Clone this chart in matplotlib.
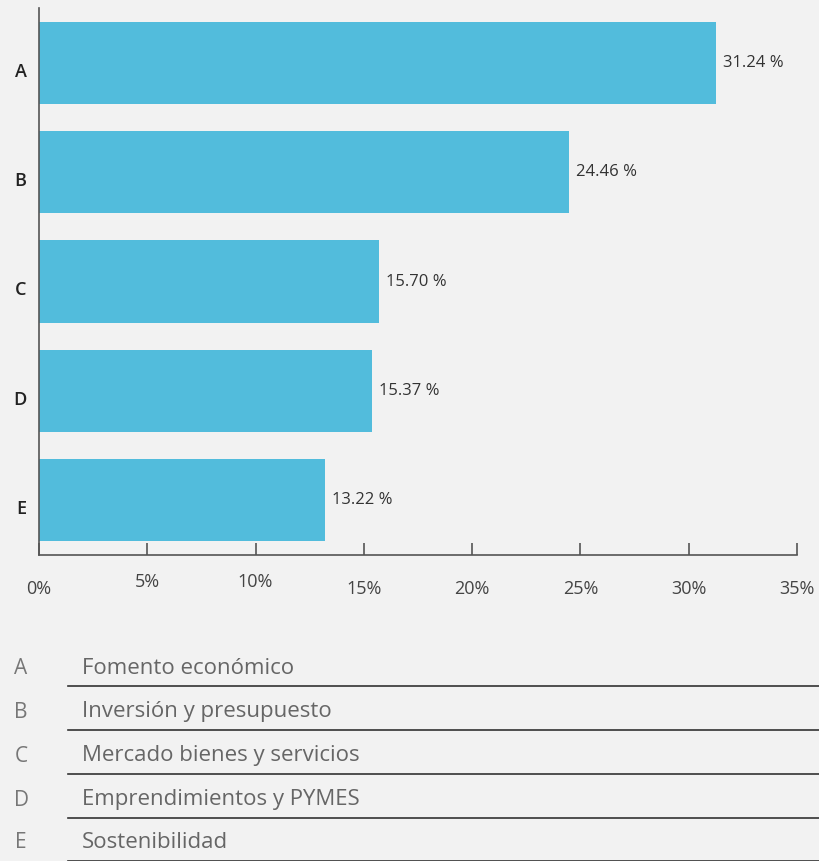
#!/usr/bin/env python3
"""Horizontal bar chart of topic shares with a lettered key underneath."""

import matplotlib
matplotlib.use("Agg")
import matplotlib.pyplot as plt
from matplotlib.lines import Line2D
from matplotlib.transforms import ScaledTranslation

LETTERS = ["A", "B", "C", "D", "E"]
VALUES = [31.24, 24.46, 15.70, 15.37, 13.22]
DESCRIPTIONS = [
    "Fomento económico",
    "Inversión y presupuesto",
    "Mercado bienes y servicios",
    "Emprendimientos y PYMES",
    "Sostenibilidad",
]
X_TICKS = [0, 5, 10, 15, 20, 25, 30, 35]

BG = "#f2f2f2"
BAR_COLOR = "#52bcdc"
AXIS_COLOR = "#555555"
FONT = ["Open Sans", "DejaVu Sans"]

plt.rcParams["font.family"] = FONT

W, H = 819, 861
fig = plt.figure(figsize=(W / 100, H / 100), dpi=100, facecolor=BG)
ax = fig.add_axes([39 / W, 1 - 555 / H, (797 - 39) / W, (555 - 8) / H])
ax.set_facecolor(BG)

ypos = list(range(len(LETTERS)))
ax.barh(ypos, VALUES, height=0.75, color=BAR_COLOR, zorder=2)
for y, v in zip(ypos, VALUES):
    ax.annotate(f"{v:.2f} %", (v, y), xytext=(5, 0), textcoords="offset points",
                va="center", ha="left", fontsize=12, color="#333333", fontweight="medium")

ax.set_xlim(0, 35)
ax.set_ylim(len(LETTERS) - 0.5, -0.5)
ax.set_yticks(ypos)
ax.set_yticklabels(LETTERS, fontsize=13, color="#222222", fontweight="semibold")
ax.set_xticks(X_TICKS)
ax.set_xticklabels([f"{t}%" for t in X_TICKS], fontsize=13, color="#444444")

for side in ("top", "right"):
    ax.spines[side].set_visible(False)
for side in ("left", "bottom"):
    ax.spines[side].set_color(AXIS_COLOR)
    ax.spines[side].set_linewidth(1.2)
ax.tick_params(axis="x", direction="in", length=9, width=1.2, color=AXIS_COLOR, pad=18)
ax.tick_params(axis="y", length=0, pad=9)

# the 5% and 10% labels sit a little higher in the original
for lab, t in zip(ax.get_xticklabels(), X_TICKS):
    if t in (5, 10):
        lab.set_transform(lab.get_transform() + ScaledTranslation(0, 5 / 72, fig.dpi_scale_trans))
# category letters sit slightly below the bar centres
for lab in ax.get_yticklabels():
    lab.set_transform(lab.get_transform() + ScaledTranslation(0, -5 / 72, fig.dpi_scale_trans))

# lettered key below the chart
row_y = [668, 712, 756, 800, 843]
for letter, desc, y in zip(LETTERS, DESCRIPTIONS, row_y):
    fig.text(21 / W, 1 - y / H, letter, fontsize=15, color="#777777", ha="center", va="center")
    fig.text(82 / W, 1 - y / H, desc, fontsize=16, color="#666666", ha="left", va="center")
    ly = 1 - (y + 18) / H
    fig.add_artist(Line2D([68 / W, 1.0], [ly, ly], color="#333333", linewidth=1.2))

fig.savefig("out.png", dpi=100, facecolor=BG)
plt.close(fig)
